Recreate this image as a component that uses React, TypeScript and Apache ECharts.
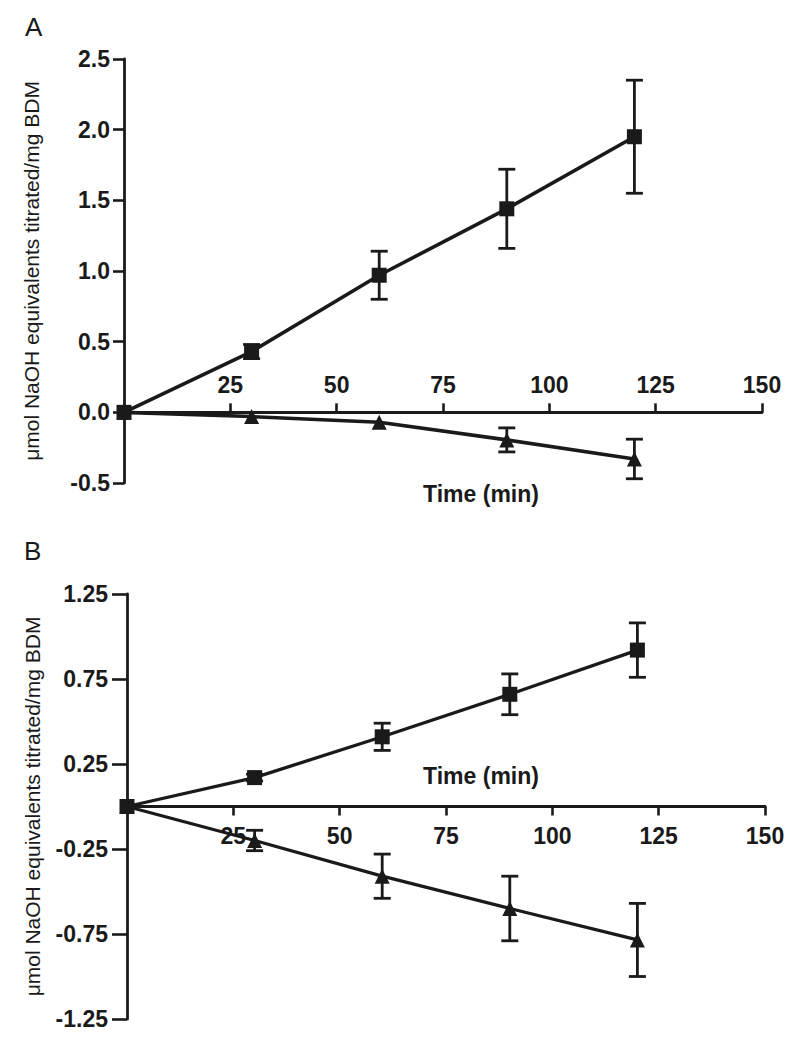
import React, { useEffect, useRef } from "react";
import * as echarts from "echarts";

const timeMin = [0, 30, 60, 90, 120];
// Panel A
const aSquare = [0, 0.43, 0.97, 1.44, 1.95];
const aSquareErr = [0, 0.05, 0.17, 0.28, 0.4];
const aTriangle = [0, -0.03, -0.07, -0.195, -0.33];
const aTriangleErr = [0, 0, 0, 0.085, 0.14];
// Panel B
const bSquare = [0, 0.17, 0.41, 0.66, 0.92];
const bSquareErr = [0, 0.02, 0.08, 0.12, 0.16];
const bTriangle = [0, -0.2, -0.41, -0.6, -0.785];
const bTriangleErr = [0, 0.06, 0.13, 0.19, 0.215];

const aYTicks = [-0.5, 0, 0.5, 1.0, 1.5, 2.0, 2.5];
const bYTicks = [-1.25, -0.75, -0.25, 0.25, 0.75, 1.25];
const xTicks = [25, 50, 75, 100, 125, 150];

const yTitle = "μmol NaOH equivalents titrated/mg BDM";
const xTitle = "Time (min)";

const INK = "#1a1a1a";
const FONT = "'Liberation Sans', Arial, Helvetica, sans-serif";

function pairs(ys: number[]) {
  return timeMin.map((t, i) => [t, ys[i]]);
}
function errData(ys: number[], es: number[]) {
  return timeMin
    .map((t, i) => [t, ys[i] - es[i], ys[i] + es[i], es[i]])
    .filter((d) => d[3] > 0);
}

const errRender = (params: any, api: any) => {
  const x = api.value(0);
  const lo = api.value(1);
  const hi = api.value(2);
  const pLo = api.coord([x, lo]);
  const pHi = api.coord([x, hi]);
  const hw = 8.5;
  const style = { stroke: INK, lineWidth: 2.8 };
  return {
    type: "group",
    children: [
      { type: "line", shape: { x1: pLo[0], y1: pLo[1], x2: pHi[0], y2: pHi[1] }, style },
      { type: "line", shape: { x1: pLo[0] - hw, y1: pLo[1], x2: pLo[0] + hw, y2: pLo[1] }, style },
      { type: "line", shape: { x1: pHi[0] - hw, y1: pHi[1], x2: pHi[0] + hw, y2: pHi[1] }, style },
    ],
  };
};

const GRID_A = { left: 124, top: 59, width: 638, height: 424 };
const GRID_B = { left: 127, top: 594, width: 638, height: 425 };

export default function App() {
  const ref = useRef<HTMLDivElement>(null);
  useEffect(() => {
    if (!ref.current) return;
    const chart = echarts.init(ref.current, undefined, { renderer: "svg" });
    const tickLabel = { color: INK, fontFamily: FONT, fontWeight: "bold" as const, fontSize: 23 };
    const xAxisBase = (gridIndex: number, position: "top" | "bottom", margin: number, offset: number) => ({
      type: "value" as const,
      gridIndex,
      min: 0,
      max: 150,
      interval: 25,
      position,
      offset,
      axisLine: { onZero: false, lineStyle: { color: INK, width: 2.8 } },
      axisTick: { show: true, length: 9, lineStyle: { color: INK, width: 2.6 }, customValues: xTicks },
      axisLabel: { ...tickLabel, margin, customValues: xTicks, formatter: (v: number) => String(v) },
      splitLine: { show: false },
    });
    const yAxisBase = (
      gridIndex: number,
      min: number,
      max: number,
      ticks: number[],
      digits: number,
      tickLen: number,
      margin: number,
      nameGap: number
    ) => ({
      type: "value" as const,
      gridIndex,
      min,
      max,
      name: yTitle,
      nameLocation: "middle" as const,
      nameRotate: 90,
      nameGap,
      nameTextStyle: { color: INK, fontFamily: FONT, fontSize: 21 },
      axisLine: { onZero: false, lineStyle: { color: INK, width: 2.8 } },
      axisTick: { show: true, length: tickLen, lineStyle: { color: INK, width: 2.6 }, customValues: ticks },
      axisLabel: { ...tickLabel, margin, customValues: ticks, formatter: (v: number) => v.toFixed(digits) },
      splitLine: { show: false },
    });
    const lineSeries = (idx: number, ys: number[], symbol: string, size: number, width: number) => ({
      type: "line" as const,
      xAxisIndex: idx,
      yAxisIndex: idx,
      data: pairs(ys),
      symbol,
      symbolSize: size,
      showAllSymbol: true,
      clip: false,
      lineStyle: { color: INK, width },
      itemStyle: { color: INK },
      z: 3,
    });
    const errSeries = (idx: number, ys: number[], es: number[]) => ({
      type: "custom" as const,
      xAxisIndex: idx,
      yAxisIndex: idx,
      data: errData(ys, es),
      renderItem: errRender,
      clip: false,
      z: 2,
    });
    // x axes sit on y = 0: offset inward from grid edge by the zero position ratio
    const aZeroFromTop = GRID_A.height * (2.5 / 3);
    const bZeroFromBottom = GRID_B.height * 0.5;
    chart.setOption({
      animation: false,
      backgroundColor: "#ffffff",
      grid: [GRID_A, GRID_B],
      xAxis: [xAxisBase(0, "top", 16, -aZeroFromTop), xAxisBase(1, "bottom", 18, -bZeroFromBottom)],
      yAxis: [
        { ...yAxisBase(0, -0.5, 2.5, aYTicks, 1, 11, 14, 82), interval: 0.5 },
        yAxisBase(1, -1.25, 1.25, bYTicks, 2, 15, 19, 84),
      ],
      series: [
        errSeries(0, aTriangle, aTriangleErr),
        errSeries(0, aSquare, aSquareErr),
        lineSeries(0, aTriangle, "triangle", 15, 3.6),
        lineSeries(0, aSquare, "rect", 15, 3.6),
        errSeries(1, bTriangle, bTriangleErr),
        errSeries(1, bSquare, bSquareErr),
        lineSeries(1, bTriangle, "triangle", 15, 3.3),
        lineSeries(1, bSquare, "rect", 15, 3.3),
      ],
      graphic: [
        { type: "text", left: 25, top: 14, style: { text: "A", fontFamily: FONT, fontSize: 26, fill: INK } },
        { type: "text", left: 24, top: 538, style: { text: "B", fontFamily: FONT, fontSize: 26, fill: INK } },
        {
          type: "text",
          x: 481,
          y: 494,
          style: { text: xTitle, fontFamily: FONT, fontSize: 23, fontWeight: "bold", fill: INK, align: "center", verticalAlign: "middle" },
        },
        {
          type: "text",
          x: 481,
          y: 776,
          style: { text: xTitle, fontFamily: FONT, fontSize: 23, fontWeight: "bold", fill: INK, align: "center", verticalAlign: "middle" },
        },
      ],
    });
    return () => chart.dispose();
  }, []);
  return <div ref={ref} style={{ position: "fixed", left: 0, top: 0, width: 799, height: 1050 }} />;
}
